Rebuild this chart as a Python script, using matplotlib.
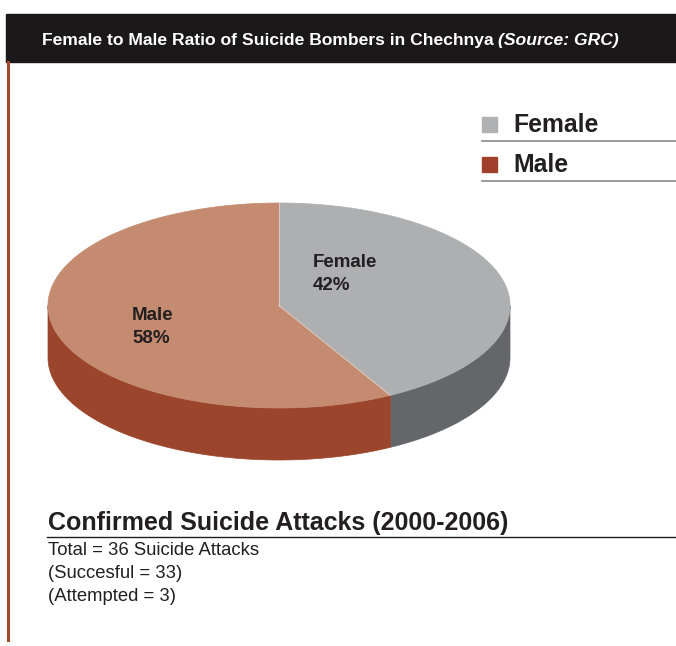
import numpy as np
import matplotlib
matplotlib.use("Agg")
import matplotlib.pyplot as plt
from matplotlib.patches import Polygon, Rectangle

labels = ["Female", "Male"]
shares = [42, 58]
top_colors = ["#aeafb1", "#c48b71"]
side_colors = ["#65666a", "#9b452c"]
legend_colors = ["#b0b1b3", "#a0402a"]

title = "Female to Male Ratio of Suicide Bombers in Chechnya"
source = "(Source: GRC)"
summary_title = "Confirmed Suicide Attacks (2000-2006)"
summary_lines = ["Total = 36 Suicide Attacks", "(Succesful = 33)", "(Attempted = 3)"]

plt.rcParams["font.family"] = ["Liberation Sans", "DejaVu Sans"]

W, H = 676, 646
fig = plt.figure(figsize=(W / 100, H / 100), dpi=100)
ax = fig.add_axes([0, 0, 1, 1])
ax.set_xlim(0, W)
ax.set_ylim(H, 0)
ax.axis("off")

# header bar and side rule
ax.add_patch(Rectangle((6, 14), W - 6, 48, color="#1a1818", zorder=1))
ax.plot([8, 8], [62, 640], color="#a3482c", lw=2.2, zorder=1)

# title: shrink the bold face until the full line spans about 578 px
inv = ax.transData.inverted()
size = 14.0
for _ in range(4):
    t1 = ax.text(42, 45, title + " ", color="white", fontsize=size, weight="bold", va="baseline")
    fig.canvas.draw()
    bb = t1.get_window_extent().transformed(inv)
    t2 = ax.text(bb.x1, 45, source, color="white", fontsize=size, weight="bold",
                 style="italic", va="baseline")
    fig.canvas.draw()
    bb2 = t2.get_window_extent().transformed(inv)
    width = bb2.x1 - 42
    if abs(width - 578) < 2:
        break
    t1.remove()
    t2.remove()
    size *= 578 / width

# 3D pie geometry
cx, cy, a, b, depth = 279, 305.5, 231, 102.5, 52


def pt(theta, dy=0.0):
    return cx + a * np.cos(theta), cy - b * np.sin(theta) + dy


fracs = np.array(shares) / sum(shares)
start = np.pi / 2
ranges = []
for f in fracs:
    end = start - f * 2 * np.pi
    ranges.append((end, start))
    start = end

# sides (front half only: sin(theta) < 0)
for (t0, t1_), col in zip(ranges, side_colors):
    for k in range(-2, 2):
        lo = max(t0, np.pi + 2 * np.pi * k)
        hi = min(t1_, 2 * np.pi + 2 * np.pi * k)
        if hi <= lo:
            continue
        th = np.linspace(lo, hi, 200)
        xs, ys = pt(th)
        xb, yb = pt(th[::-1], depth)
        poly = np.column_stack([np.r_[xs, xb], np.r_[ys, yb]])
        ax.add_patch(Polygon(poly, closed=True, facecolor=col, edgecolor=col, lw=0.5, zorder=2))

# top faces
for (t0, t1_), col in zip(ranges, top_colors):
    th = np.linspace(t0, t1_, 300)
    xs, ys = pt(th)
    poly = np.column_stack([np.r_[cx, xs], np.r_[cy, ys]])
    ax.add_patch(Polygon(poly, closed=True, facecolor=col, edgecolor=col, lw=0.5, zorder=3))
for t0, t1_ in ranges:
    x0, y0 = pt(t1_)
    ax.plot([cx, x0], [cy, y0], color="#d9c9c0", lw=0.8, zorder=4)

# slice labels
label_pos = [(313, 267), (132, 320)]
for lab, s, (lx, ly) in zip(labels, shares, label_pos):
    ax.text(lx, ly, lab, fontsize=13.5, weight="bold", color="#231f20", va="baseline", zorder=5)
    ax.text(lx, ly + 23, f"{s}%", fontsize=13.5, weight="bold", color="#231f20", va="baseline", zorder=5)

# legend
for i, (lab, col) in enumerate(zip(labels, legend_colors)):
    y0 = 117 + 40 * i
    ax.add_patch(Rectangle((482, y0), 15, 15, color=col, zorder=3))
    ax.text(513, y0 + 15, lab, fontsize=17.8, weight="bold", color="#231f20", va="baseline")
    ax.plot([482, W], [y0 + 24, y0 + 24], color="#8a8a8a", lw=1.2)

# summary
ax.text(48, 530, summary_title, fontsize=18, weight="bold", color="#231f20", va="baseline")
ax.plot([47, W], [537, 537], color="#231f20", lw=1)
for i, line in enumerate(summary_lines):
    ax.text(48, 555 + 23 * i, line, fontsize=13.3, color="#231f20", va="baseline")

fig.savefig("out.png", dpi=100)
